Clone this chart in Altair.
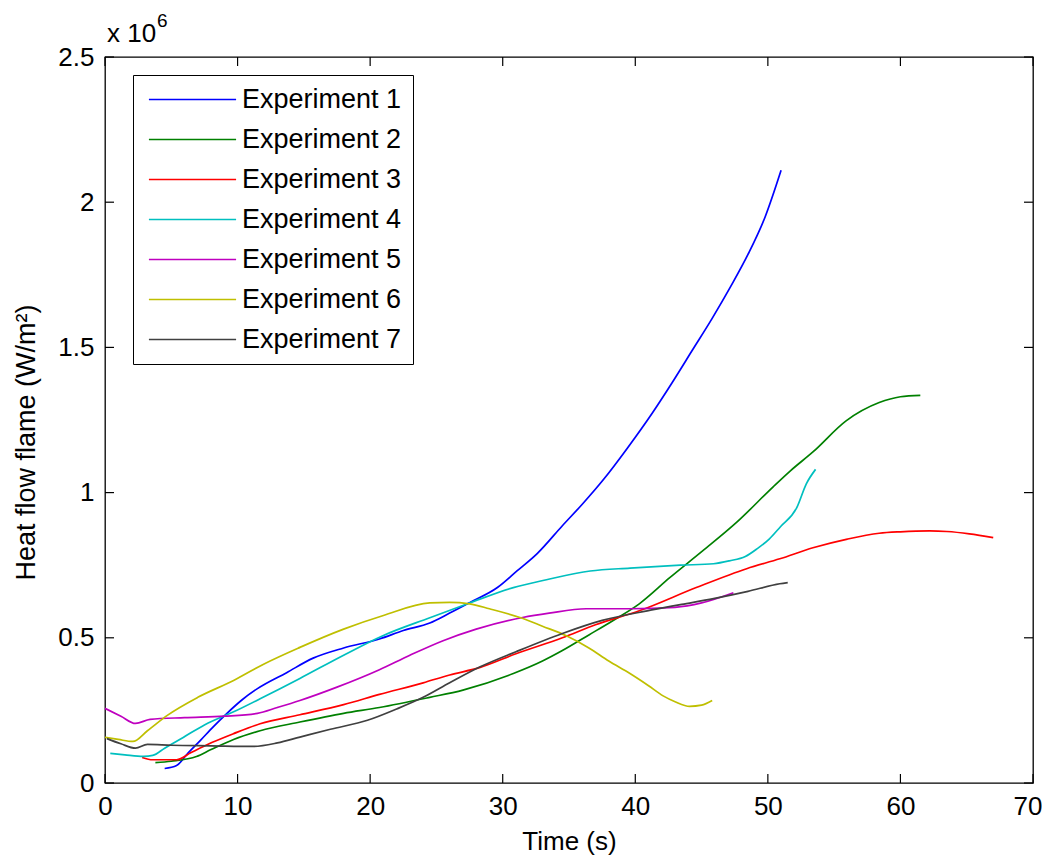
import altair as alt
import pandas as pd

FONT = "Liberation Sans"

names = ["Experiment 1", "Experiment 2", "Experiment 3", "Experiment 4",
         "Experiment 5", "Experiment 6", "Experiment 7"]
colors = ["#0000FF", "#008000", "#FF0000", "#00BFBF", "#BF00BF", "#BFBF00", "#404040"]

# time (s) and heat flow (x 10^6 W/m^2)
t1 = [4.5, 5.4, 6.2, 7.2, 8.2, 9.2, 10.3, 11.5, 13.7, 15.7, 18.0, 20.7, 22.5, 24.5,
      26.0, 27.5, 29.6, 31.1, 32.6, 34.5, 36.0, 37.6, 39.4, 41.3, 42.8, 44.3, 45.8,
      47.2, 48.5, 49.8, 51.0]
v1 = [0.05, 0.06, 0.10, 0.147, 0.195, 0.24, 0.285, 0.325, 0.38, 0.43, 0.465, 0.496,
      0.525, 0.551, 0.585, 0.621, 0.673, 0.731, 0.79, 0.886, 0.96, 1.045, 1.153, 1.275,
      1.38, 1.49, 1.60, 1.71, 1.82, 1.95, 2.11]

t2 = [3.8, 5.0, 6.9, 8.0, 9.7, 11.7, 14.7, 18.0, 20.7, 24.5, 27.0, 30.8, 33.0, 34.5,
      36.5, 38.3, 40.3, 42.6, 45.1, 47.7, 50.4, 51.7, 53.4, 55.9, 58.4, 60.0, 61.5]
v2 = [0.07, 0.075, 0.091, 0.115, 0.15, 0.18, 0.21, 0.24, 0.26, 0.295, 0.32, 0.377,
      0.42, 0.456, 0.51, 0.559, 0.617, 0.707, 0.80, 0.90, 1.02, 1.075, 1.14, 1.247,
      1.31, 1.33, 1.335]

t3 = [2.8, 3.6, 5.4, 6.5, 8.1, 9.7, 11.7, 14.7, 18.0, 20.7, 24.0, 26.0, 28.3, 31.0,
      34.5, 37.0, 40.3, 44.6, 48.4, 50.9, 53.4, 56.0, 58.4, 60.0, 62.2, 63.5, 65.2, 67.0]
v3 = [0.088, 0.08, 0.08, 0.105, 0.14, 0.17, 0.204, 0.235, 0.27, 0.305, 0.345, 0.372,
      0.398, 0.445, 0.50, 0.545, 0.593, 0.673, 0.738, 0.772, 0.81, 0.84, 0.86, 0.865,
      0.868, 0.866, 0.858, 0.845]

t4 = [0.4, 1.5, 2.9, 3.6, 4.5, 5.9, 7.5, 9.7, 11.7, 14.7, 18.0, 21.0, 24.5, 27.5, 30.8,
      33.3, 36.6, 39.6, 43.4, 45.9, 47.1, 48.3, 49.2, 50.1, 50.9, 52.2, 52.9, 53.6]
v4 = [0.102, 0.097, 0.092, 0.095, 0.12, 0.157, 0.20, 0.245, 0.29, 0.36, 0.44, 0.508,
      0.569, 0.62, 0.673, 0.70, 0.73, 0.74, 0.75, 0.755, 0.765, 0.78, 0.807, 0.84,
      0.88, 0.95, 1.03, 1.08]

t5 = [0.0, 1.2, 2.3, 3.4, 6.0, 9.0, 11.5, 13.0, 14.7, 17.5, 20.7, 23.0, 25.5, 28.0,
      31.5, 33.5, 36.3, 39.6, 43.0, 45.0, 47.4]
v5 = [0.257, 0.23, 0.205, 0.219, 0.225, 0.23, 0.24, 0.26, 0.284, 0.33, 0.39, 0.44,
      0.49, 0.53, 0.57, 0.585, 0.60, 0.60, 0.605, 0.62, 0.655]

t6 = [0.0, 1.0, 2.1, 3.2, 4.7, 7.0, 9.7, 12.0, 14.7, 18.0, 21.0, 24.5, 26.0, 27.5,
      29.0, 31.3, 33.0, 34.8, 36.5, 38.0, 39.6, 41.0, 42.1, 43.0, 44.1, 45.0, 45.8]
v6 = [0.157, 0.15, 0.143, 0.18, 0.233, 0.295, 0.353, 0.41, 0.467, 0.53, 0.577, 0.62,
      0.622, 0.617, 0.60, 0.57, 0.54, 0.507, 0.465, 0.42, 0.377, 0.335, 0.30, 0.28,
      0.264, 0.268, 0.284]

t7 = [0.15, 1.2, 2.3, 3.2, 5.0, 8.0, 11.2, 13.0, 14.7, 17.0, 19.8, 22.0, 24.0, 26.0,
      28.3, 31.0, 34.5, 37.5, 40.9, 43.5, 45.9, 48.5, 50.9, 51.5]
v7 = [0.153, 0.135, 0.12, 0.133, 0.13, 0.128, 0.126, 0.138, 0.158, 0.185, 0.216,
      0.255, 0.295, 0.345, 0.40, 0.452, 0.515, 0.56, 0.593, 0.615, 0.635, 0.66, 0.686,
      0.69]

x_ticks = [0, 10, 20, 30, 40, 50, 60, 70]
y_ticks = [0, 0.5, 1, 1.5, 2, 2.5]

series = [(t1, v1), (t2, v2), (t3, v3), (t4, v4), (t5, v5), (t6, v6), (t7, v7)]
rows = []
for name, (ts, vs) in zip(names, series):
    for i, (t, v) in enumerate(zip(ts, vs)):
        rows.append({"Experiment": name, "Time": t, "Heat": v, "order": i})
df = pd.DataFrame(rows)

W, H = 928, 726
TL = 9

xscale = alt.Scale(domain=[0, 70], nice=False, zero=False)
yscale = alt.Scale(domain=[0, 2.5], nice=False, zero=False)

lines = alt.Chart(df).mark_line(strokeWidth=1.7, interpolate="monotone").encode(
    x=alt.X("Time:Q", scale=xscale,
            axis=alt.Axis(title="Time (s)", values=x_ticks, format="~g", ticks=False,
                          domain=False, grid=False, labelPadding=10, titleY=66,
                          labelFlush=False, titleBaseline="alphabetic",
                          labelAlign={"condition": {"test": "datum.value >= 70",
                                                    "value": "right"},
                                      "value": "center"},
                          labelOffset={"condition": {"test": "datum.value >= 70",
                                                     "value": 9},
                                       "value": 0})),
    y=alt.Y("Heat:Q", scale=yscale,
            axis=alt.Axis(title="Heat flow flame (W/m²)", values=y_ticks, format="~g",
                          ticks=False, domain=False, grid=False, labelPadding=11,
                          labelFlush=False,
                          titleX=-79, titleY=385, titleBaseline="middle",
                          titleFontSize=27)),
    color=alt.Color("Experiment:N",
                    scale=alt.Scale(domain=names, range=colors),
                    legend=alt.Legend(orient="none", legendX=28, legendY=18, title=None,
                                      symbolType="M-4,0H4", symbolSize=475,
                                      symbolStrokeWidth=1.6, symbolOffset=35,
                                      labelFontSize=27, labelFont=FONT,
                                      labelColor="black", labelOffset=36,
                                      labelExpr="datum.label + '   '",
                                      strokeColor="black", fillColor="white",
                                      padding=11, rowPadding=12)),
    order="order:Q",
)

xt = pd.DataFrame({"v": x_ticks})
yt = pd.DataFrame({"v": y_ticks})
tick_style = dict(color="black", strokeWidth=1.2)
xb = alt.Chart(xt).mark_rule(**tick_style).encode(
    x=alt.X("v:Q", scale=xscale), y=alt.value(H - TL), y2=alt.value(H))
xtop = alt.Chart(xt).mark_rule(**tick_style).encode(
    x=alt.X("v:Q", scale=xscale), y=alt.value(0), y2=alt.value(TL))
yl = alt.Chart(yt).mark_rule(**tick_style).encode(
    y=alt.Y("v:Q", scale=yscale), x=alt.value(0), x2=alt.value(TL))
yr = alt.Chart(yt).mark_rule(**tick_style).encode(
    y=alt.Y("v:Q", scale=yscale), x=alt.value(W - TL), x2=alt.value(W))

exp_base = alt.Chart(pd.DataFrame({"s": ["x 10"]})).mark_text(
    align="left", baseline="alphabetic", fontSize=26, font=FONT, color="black"
).encode(x=alt.value(2), y=alt.value(-15), text="s:N")
exp_sup = alt.Chart(pd.DataFrame({"s": ["6"]})).mark_text(
    align="left", baseline="alphabetic", fontSize=19, font=FONT, color="black"
).encode(x=alt.value(52), y=alt.value(-30), text="s:N")

chart = alt.layer(lines, xb, xtop, yl, yr, exp_base, exp_sup).properties(
    width=W, height=H,
    autosize=alt.AutoSizeParams(type="none"),
    padding={"left": 97, "top": 49, "right": 9, "bottom": 77},
    background="white",
).configure_view(stroke="black", strokeWidth=1.3).configure_axis(
    labelFont=FONT, labelFontSize=26, labelColor="black",
    titleFont=FONT, titleFontSize=26, titleColor="black", titleFontWeight="normal",
).resolve_scale(x="shared", y="shared")

chart.save("out.html", embed_options={"renderer": "svg", "actions": False})
